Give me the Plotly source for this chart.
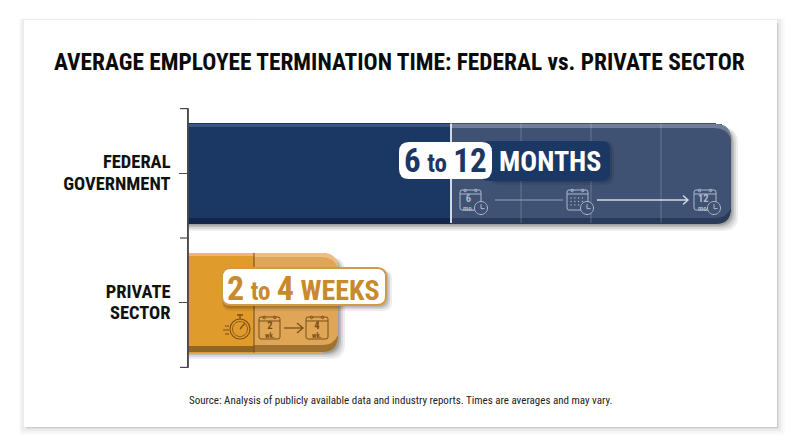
import plotly.graph_objects as go

W, H = 800, 447
FONT = "Roboto Condensed, Roboto"

title = "AVERAGE EMPLOYEE TERMINATION TIME: FEDERAL vs. PRIVATE SECTOR"
source = "Source: Analysis of publicly available data and industry reports. Times are averages and may vary."
categories = ["FEDERAL<br>GOVERNMENT", "PRIVATE<br>SECTOR"]
# bar lengths are schematic in the original (not to a true time scale)
lower_segment = [263, 66]
upper_segment = [280, 84]
lower_colors = ["#1b3763", "#e09b2d"]
upper_colors = ["#3f5274", "#dfa658"]
federal_gridlines = [333, 403, 473]

NAVY, GOLD = "#1b3763", "#c98a2b"
ICON_F, ICON_P = "#aeb9cb", "#7a4e14"
AXIS = "#4a4a4a"


def X(p): return p / W
def Y(p): return 1 - p / H


shapes = []
notes = []


def path(d, fill=None, line=None, width=1, layer="above", opacity=1):
    s = dict(type="path", xref="paper", yref="paper", path=d, layer=layer, opacity=opacity)
    s["fillcolor"] = fill if fill else "rgba(0,0,0,0)"
    s["line"] = dict(color=line, width=width) if line else dict(width=0)
    shapes.append(s)


def pts(*a):
    out = []
    for t in a:
        if isinstance(t, str):
            out.append(t)
        else:
            out.append(f"{X(t[0]):.5f},{Y(t[1]):.5f}")
    return " ".join(out)


def rrect(x0, y0, x1, y1, r):
    return pts("M", (x0 + r, y0), "L", (x1 - r, y0), "Q", (x1, y0), (x1, y0 + r), "L", (x1, y1 - r),
               "Q", (x1, y1), (x1 - r, y1), "L", (x0 + r, y1), "Q", (x0, y1), (x0, y1 - r),
               "L", (x0, y0 + r), "Q", (x0, y0), (x0 + r, y0), "Z")


def rrect_right(x0, y0, x1, y1, r):
    return pts("M", (x0, y0), "L", (x1 - r, y0), "Q", (x1, y0), (x1, y0 + r), "L", (x1, y1 - r),
               "Q", (x1, y1), (x1 - r, y1), "L", (x0, y1), "Z")


def circle(cx, cy, r, fill=None, line=None, width=1):
    k = 0.5523 * r
    d = pts("M", (cx + r, cy), "C", (cx + r, cy + k), (cx + k, cy + r), (cx, cy + r),
            "C", (cx - k, cy + r), (cx - r, cy + k), (cx - r, cy),
            "C", (cx - r, cy - k), (cx - k, cy - r), (cx, cy - r),
            "C", (cx + k, cy - r), (cx + r, cy - k), (cx + r, cy), "Z")
    path(d, fill, line, width)


def seg(x0, y0, x1, y1, color, width=1, opacity=1, layer="above"):
    path(pts("M", (x0, y0), "L", (x1, y1)), None, color, width, layer, opacity)


def text(x, y, s, size, color, bold=False, font=FONT):
    notes.append(dict(xref="paper", yref="paper", x=X(x), y=Y(y), text=f"<b>{s}</b>" if bold else s,
                      showarrow=False, xanchor="center", yanchor="middle",
                      font=dict(family=font, size=size, color=color)))


def calendar(x0, y0, x1, y1, color, lab1=None, lab2=None, width=1, grid=False):
    path(rrect(x0, y0 + 2, x1, y1, 2), None, color, width)
    seg(x0, y0 + 6, x1, y0 + 6, color, width)
    for f in (0.25, 0.75):
        circle(x0 + f * (x1 - x0), y0 + 2.5, 1.3, None, color, width)
    if grid:
        for i in range(4):
            for j in range(3):
                circle(x0 + 4 + i * 3.8, y0 + 10 + j * 3.5, 0.7, color)
    shift = -2 if lab2 == "mo." else 0
    if lab1:
        notes.append(dict(xref="paper", yref="paper", x=X((x0 + x1) / 2 + shift), y=Y(y0 + 14.5),
                          showarrow=False, xanchor="center", yanchor="middle",
                          text=f'<b><span style="font-size:10.5px">{lab1}</span><br>{lab2}</b>',
                          font=dict(family=FONT, size=7, color=color)))


def clock(cx, cy, r, color, fill):
    circle(cx, cy, r, fill, color, 1)
    path(pts("M", (cx, cy - r * .6), "L", (cx, cy + r * .1), "L", (cx + r * .55, cy + r * .1)), None, color, 1)


# ---- card and its shadow
for pad, col in [(8, "#fafafa"), (6, "#f5f5f5"), (4, "#ececec")]:
    path(rrect(24 - pad * .6, 20 - pad * .2, 777 + pad, 427 + pad, 1), col, layer="below")
path(rrect(26, 23, 778.5, 428.5, 1), "#cdcdcd", layer="below")
path(pts("M", (24, 20), "L", (777, 20), "L", (777, 427), "L", (24, 427), "Z"), "#ffffff", layer="below")

# ---- bar shadows
for pad, op in [(7, .07), (5, .09), (3, .12), (1.5, .14)]:
    path(rrect_right(188, 128, 731 + pad, 224 + pad, 15), "#000000", layer="below", opacity=op)
    path(rrect_right(188, 257, 338 + pad, 352 + pad, 15), "#000000", layer="below", opacity=op)

# ---- bevels on the bars
path(pts("M", (188, 218), "L", (451, 218), "L", (451, 224), "L", (188, 224), "Z"), "#12264a")
path(pts("M", (451, 218), "L", (714, 218), "Q", (727, 218), (731, 208), "Q", (731, 224), (716, 224),
         "L", (451, 224), "Z"), "#2a3a59")
path(pts("M", (188, 124), "L", (451, 124), "L", (451, 127), "L", (188, 127), "Z"), "#3a5583")
path(pts("M", (451, 124), "L", (716, 124), "Q", (731, 124), (731, 139), "Q", (727, 128), (714, 128),
         "L", (451, 128), "Z"), "#6f7d96")
path(pts("M", (188, 346), "L", (254, 346), "L", (254, 352), "L", (188, 352), "Z"), "#8f6724")
path(pts("M", (254, 345), "L", (322, 345), "Q", (334, 345), (338, 335), "Q", (338, 352), (323, 352),
         "L", (254, 352), "Z"), "#a07230")
path(pts("M", (188, 253), "L", (254, 253), "L", (254, 256), "L", (188, 256), "Z"), "#ebb872")
path(pts("M", (254, 253), "L", (323, 253), "Q", (338, 253), (338, 268), "Q", (334, 257), (322, 257),
         "L", (254, 257), "Z"), "#eabf85")

# ---- dividers inside the bars (data coordinates)
for gx in federal_gridlines:
    shapes.append(dict(type="line", xref="x", yref="y", x0=gx, x1=gx, y0=-0.385, y1=0.385, layer="above",
                       line=dict(color="rgba(255,255,255,0.18)", width=1.2)))
shapes.append(dict(type="line", xref="x", yref="y", x0=lower_segment[0], x1=lower_segment[0], y0=-0.385, y1=0.385,
                   layer="above", line=dict(color="#ffffff", width=1.6)))
shapes.append(dict(type="line", xref="x", yref="y", x0=lower_segment[1], x1=lower_segment[1], y0=0.615, y1=1.385,
                   layer="above", line=dict(color="#6e4a17", width=1)))

# ---- brackets at the category boundaries of the axis, axis line over the bars
for b in (-0.5, 0.5, 1.5):
    shapes.append(dict(type="line", xref="paper", yref="y", x0=X(180), x1=X(188.5), y0=b, y1=b, layer="above",
                       line=dict(color=AXIS, width=1.2)))
shapes.append(dict(type="line", xref="paper", yref="y", x0=X(188.3), x1=X(188.3), y0=-0.5, y1=1.5, layer="above",
                   line=dict(color=AXIS, width=1.2)))

# ---- federal pill
for pad, op in [(4, .08), (2, .12)]:
    path(rrect(490, 141, 610 + pad, 181 + pad, 9), "#000000", opacity=op)
path(rrect(480, 141, 610, 181, 9), "#1b3763")
path(rrect(399, 142, 492, 179, 10), "#ffffff")
notes.append(dict(xref="paper", yref="paper", x=X(445.5), y=Y(160.5), showarrow=False,
                  text='<b><span style="font-size:33px">6</span> <span style="font-size:25px">to</span> '
                       '<span style="font-size:33px">12</span></b>',
                  font=dict(family=FONT, color=NAVY, size=28)))
text(549.5, 161, "MONTHS", 28, "#ffffff", True)

# ---- federal icons
calendar(460, 188, 481, 210, ICON_F, "6", "mo.")
clock(481, 208, 6.5, ICON_F, "#3f5274")
seg(495, 200, 563, 200, ICON_F, 1.2, .8)
calendar(567, 188, 588, 210, ICON_F, grid=True)
clock(587, 208, 6.5, ICON_F, "#3f5274")
seg(597, 200, 688, 200, "#d5dbe6", 1.4)
path(pts("M", (683, 195.5), "L", (688, 200), "L", (683, 204.5)), None, "#d5dbe6", 1.4)
calendar(694, 188, 716, 210, ICON_F, "12", "mo.")
clock(714, 208, 6.5, ICON_F, "#3f5274")

# ---- private pill
for pad, op in [(5, .07), (3, .10), (1.5, .12)]:
    path(rrect(222, 270, 387 + pad, 306 + pad, 9), "#000000", opacity=op)
path(rrect(222, 268, 386, 305, 9), "#ffffff", "#d19a45", 2)
notes.append(dict(xref="paper", yref="paper", x=X(303.5), y=Y(288), showarrow=False,
                  text='<b><span style="font-size:34px">2</span> <span style="font-size:25px">to</span> '
                       '<span style="font-size:34px">4</span> <span style="font-size:28px">WEEKS</span></b>',
                  font=dict(family=FONT, color=GOLD, size=28)))

# ---- private icons
circle(240, 329, 10, None, ICON_P, 1.1)
circle(240, 329, 7.5, None, ICON_P, .8)
seg(240, 329, 245, 323, ICON_P, 1.2)
seg(237, 315, 243, 315, ICON_P, 1.5)
seg(240, 315, 240, 319, ICON_P, 1.2)
for yy, x0 in [(326, 225), (330, 223), (334, 225)]:
    seg(x0, yy, 229, yy, ICON_P, 1)
calendar(259, 315, 280, 339, ICON_P, "2", "wk.")
seg(284, 328, 302, 328, ICON_P, 1.3)
path(pts("M", (297, 323), "L", (303, 328), "L", (297, 333)), None, ICON_P, 1.3)
calendar(306, 315, 328, 339, ICON_P, "4", "wk.")

# ---- page text
text(399.5, 62, title, 23.4, "#0b0b0b", True)
text(400, 400, source, 11, "#222222")

fig = go.Figure()
fig.add_bar(y=categories, x=lower_segment, orientation="h", marker=dict(color=lower_colors, line=dict(width=0)),
            hoverinfo="skip", showlegend=False)
fig.add_bar(y=categories, x=upper_segment, orientation="h",
            marker=dict(color=upper_colors, line=dict(width=0), cornerradius=15),
            hoverinfo="skip", showlegend=False)
fig.update_layout(
    width=W, height=H, margin=dict(l=0, r=0, t=0, b=0), barmode="stack", bargap=0.23, barcornerradius=15,
    paper_bgcolor="#ffffff", plot_bgcolor="rgba(0,0,0,0)", shapes=shapes, annotations=notes,
    font=dict(family=FONT),
    xaxis=dict(domain=[188 / W, 731 / W], range=[0, 543], visible=False, showgrid=False, zeroline=False),
    yaxis=dict(domain=[1 - 368 / H, 1 - 108 / H], autorange="reversed", showgrid=False, zeroline=False,
               showline=True, linecolor=AXIS, linewidth=1.2, ticks="outside",
               ticklen=8, tickcolor=AXIS, tickwidth=1.2,
               tickfont=dict(family=FONT, size=16.8, color="#111111"), ticklabelstandoff=5),
)
fig.update_yaxes(tickprefix='<span style="font-size:18.5px"><b>', ticksuffix="</b></span>")
POST = """
document.body.style.margin='0';
document.querySelectorAll('svg text').forEach(function(t){t.style.fontStretch='75%';});
"""
fig.write_html("out.html", config=dict(displayModeBar=False), post_script=POST)
